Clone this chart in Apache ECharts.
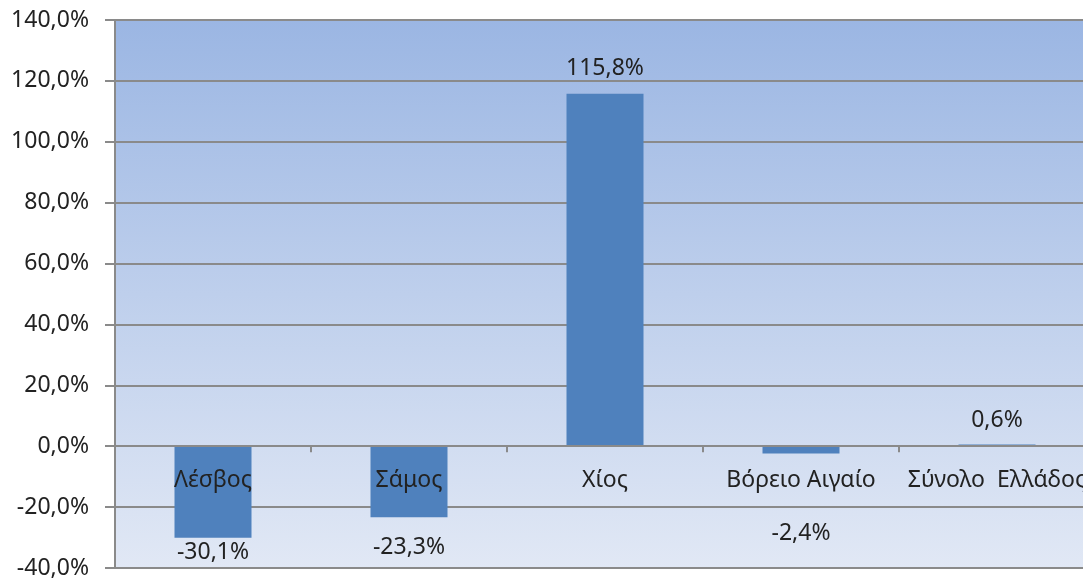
<!DOCTYPE html>
<html><head><meta charset="utf-8">
<script src="https://cdn.jsdelivr.net/npm/echarts@6/dist/echarts.min.js"></script>
<style>html,body{margin:0;padding:0;background:#fff}#c{width:1083px;height:579px}</style>
</head><body><div id="c"></div>
<script>
const categories = ['Λέσβος', 'Σάμος', 'Χίος', 'Βόρειο Αιγαίο', 'Σύνολο  Ελλάδος'];
const values = [-30.1, -23.3, 115.8, -2.4, 0.6];
const labelDistances = [3, 19, 14, 68, 12];
const yMin = -40, yMax = 140, yStep = 20;

const FONT = 'Noto Sans';
const FS = 23;
const fmt = v => v.toFixed(1).replace('.', ',') + '%';

const chart = echarts.init(document.getElementById('c'));
chart.setOption({
  animation: false,
  textStyle: { fontFamily: FONT },
  grid: {
    left: 115, top: 20, width: 980, height: 548,
    containLabel: false, outerBoundsMode: 'none',
    show: true, borderWidth: 0,
    backgroundColor: new echarts.graphic.LinearGradient(0, 0, 0, 1, [
      { offset: 0, color: '#9bb6e3' },
      { offset: 1, color: '#e1e8f5' }
    ])
  },
  xAxis: {
    type: 'category', data: categories, z: 20,
    axisLine: { onZero: true, lineStyle: { color: '#8a8a8a', width: 2 } },
    axisTick: { show: true, length: 6, inside: false, lineStyle: { color: '#8a8a8a', width: 2 } },
    axisLabel: { color: '#222', fontSize: FS, margin: -99, fontFamily: FONT, interval: 0, verticalAlign: 'top' },
    splitLine: { show: false }
  },
  yAxis: {
    type: 'value', min: yMin, max: yMax, interval: yStep,
    axisLine: { show: true, lineStyle: { color: '#8a8a8a', width: 2 } },
    axisTick: { show: true, length: 10, lineStyle: { color: '#8a8a8a', width: 2 } },
    axisLabel: { color: '#222', fontSize: FS, margin: 26, fontFamily: FONT, formatter: v => fmt(v) },
    splitLine: { show: true, lineStyle: { color: '#8a8a8a', width: 2 } }
  },
  series: [{
    type: 'bar',
    barWidth: 77,
    itemStyle: { color: '#4f81bd' },
    data: values.map((v, i) => ({
      value: v,
      label: { position: v < 0 ? 'bottom' : 'top', distance: labelDistances[i] }
    })),
    label: {
      show: true, color: '#222', fontSize: FS, fontFamily: FONT,
      formatter: p => fmt(p.value)
    }
  }]
});
</script></body></html>
